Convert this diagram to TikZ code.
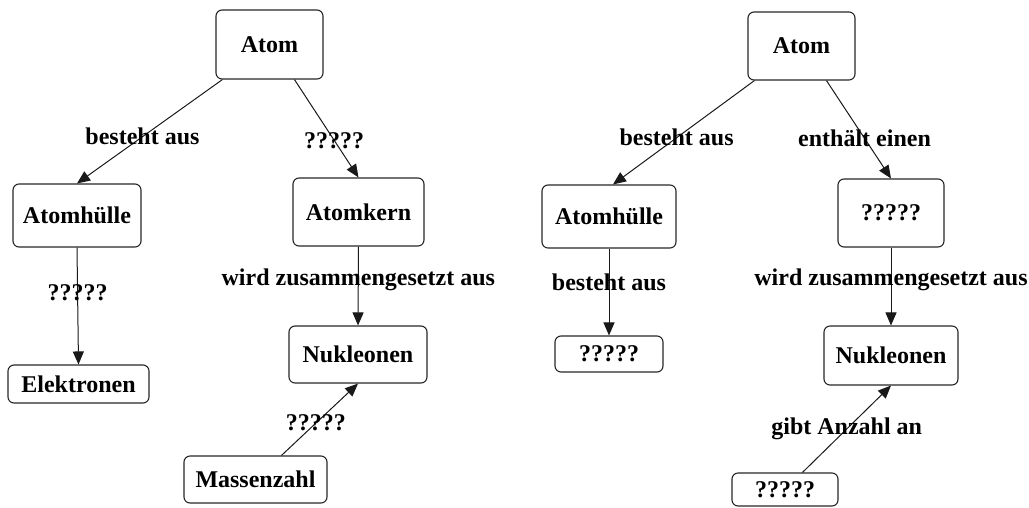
\documentclass[tikz,border=0pt]{standalone}
\usepackage{fontspec}
\setmainfont{Liberation Serif}
\usetikzlibrary{arrows.meta,calc}
\tikzset{
  concept/.style={draw=black!85, line width=1.1pt, rounded corners=6pt, inner sep=0pt,
    font=\fontsize{24}{28}\selectfont\bfseries, align=center},
  link/.style={draw=black!90, line width=1pt, -{Triangle[length=13pt,width=11pt]}},
  lbl/.style={font=\fontsize{24}{28}\selectfont\bfseries, inner sep=1pt}
}
\begin{document}
\begin{tikzpicture}[x=1pt,y=-1pt]
\useasboundingbox (0,0) rectangle (1029,507);
% left diagram
\node[concept, minimum width=107pt, minimum height=69pt] (A1) at (269.5,44.5) {Atom};
\node[concept, minimum width=128pt, minimum height=63pt] (H1) at (77,215.5) {Atomhülle};
\node[concept, minimum width=131pt, minimum height=68pt] (K1) at (358.5,212) {Atomkern};
\node[concept, minimum width=141pt, minimum height=38pt] (E1) at (78.5,384) {Elektronen};
\node[concept, minimum width=138pt, minimum height=57pt] (N1) at (358,354.5) {Nukleonen};
\node[concept, minimum width=143pt, minimum height=47pt] (M1) at (255.5,479.5) {Massenzahl};

\draw[link] ([xshift=7pt]A1.south west) -- node[lbl, pos=0.55] {besteht aus} (H1.north);
\draw[link] ([xshift=79pt]A1.south west) -- node[lbl, pos=0.62] {?????} (K1.north);
\draw[link] (H1.south) -- node[lbl, pos=0.39] {?????} (E1.north);
\draw[link] (K1.south) -- node[lbl, pos=0.42] {wird zusammengesetzt aus} (N1.north);
\draw[link] ([xshift=98pt]M1.north west) -- node[lbl, pos=0.45] {?????} (N1.south);

% right diagram
\node[concept, minimum width=107pt, minimum height=68pt] (A2) at (801.5,46) {Atom};
\node[concept, minimum width=134pt, minimum height=63pt] (H2) at (609,216.5) {Atomhülle};
\node[concept, minimum width=106pt, minimum height=68pt] (Q2) at (891,213) {?????};
\node[concept, minimum width=108pt, minimum height=36pt] (Q3) at (609,354) {?????};
\node[concept, minimum width=134pt, minimum height=59pt] (N2) at (891,355.5) {Nukleonen};
\node[concept, minimum width=106pt, minimum height=33pt] (Q4) at (785,489.5) {?????};

\draw[link] ([xshift=7pt]A2.south west) -- node[lbl, pos=0.55] {besteht aus} ([xshift=4pt]H2.north);
\draw[link] ([xshift=79pt]A2.south west) -- node[lbl, pos=0.59] {enthält einen} (Q2.north);
\draw[link] (H2.south) -- node[lbl, pos=0.39] {besteht aus} (Q3.north);
\draw[link] (Q2.south) -- node[lbl, pos=0.42] {wird zusammengesetzt aus} (N2.north);
\draw[link] ([xshift=71pt]Q4.north west) -- node[lbl, pos=0.5] {gibt Anzahl an} (N2.south);
\end{tikzpicture}
\end{document}
